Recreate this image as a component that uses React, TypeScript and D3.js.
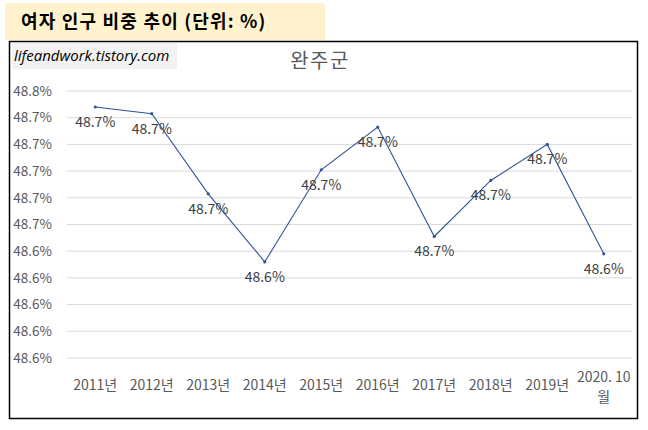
import React from "react";
import * as d3 from "d3";

const categories = [
  "2011년",
  "2012년",
  "2013년",
  "2014년",
  "2015년",
  "2016년",
  "2017년",
  "2018년",
  "2019년",
  "2020. 10월",
];

// share of women in total population (%)
const femaleShare = [
  48.748, 48.743, 48.683, 48.632, 48.701, 48.733, 48.651, 48.693, 48.72, 48.638,
];

const yTicks = [
  48.56, 48.58, 48.6, 48.62, 48.64, 48.66, 48.68, 48.7, 48.72, 48.74, 48.76,
];

const FONT = "'Noto Sans CJK KR', 'Noto Sans', sans-serif";

export default function App() {
  const width = 648;
  const height = 430;
  const plot = { left: 67, right: 632, top: 91, bottom: 358 };

  const x = d3
    .scaleBand()
    .domain(categories)
    .range([plot.left, plot.right]);
  const cx = (c: string) => x(c)! + x.bandwidth() / 2;

  const y = d3.scaleLinear().domain([48.56, 48.76]).range([plot.bottom, plot.top]);

  const line = d3
    .line<number>()
    .x((_, i) => cx(categories[i]))
    .y((d) => y(d));

  const fmt = (v: number) => `${v.toFixed(1)}%`;

  return (
    <svg
      width={width}
      height={height}
      style={{ position: "absolute", left: 0, top: 0, background: "#fff" }}
    >
      {/* header box */}
      <rect x={5} y={3} width={320} height={37} fill="#FFF2CC" />
      <text
        x={21}
        y={28}
        fontFamily={FONT}
        fontWeight={700}
        fontSize={18}
        letterSpacing={1.2}
        fill="#000"
      >
        여자 인구 비중 추이 (단위: %)
      </text>

      {/* chart frame */}
      <rect
        x={9.5}
        y={41.5}
        width={628}
        height={377}
        fill="#fff"
        stroke="#000"
        strokeWidth={1.5}
      />
      <rect x={12} y={43} width={165} height={26} fill="#F2F2F2" />
      <text
        x={14}
        y={61}
        fontFamily="'Open Sans', Lato, sans-serif"
        fontStyle="italic"
        fontSize={15}
        fill="#000"
      >
        lifeandwork.tistory.com
      </text>

      <text
        x={320}
        y={68}
        textAnchor="middle"
        fontFamily={FONT}
        fontSize={20}
        letterSpacing={1.5}
        fill="#595959"
      >
        완주군
      </text>

      {/* grid + y labels */}
      {yTicks.map((t) => (
        <g key={t}>
          <line
            x1={plot.left}
            x2={plot.right}
            y1={y(t)}
            y2={y(t)}
            stroke="#D9D9D9"
            strokeWidth={1}
          />
          <text
            x={52}
            y={y(t)}
            dy="0.35em"
            textAnchor="end"
            fontFamily={FONT}
            fontSize={13.5}
            fill="#595959"
          >
            {fmt(t)}
          </text>
        </g>
      ))}

      {/* x labels */}
      {categories.map((c) => {
        const parts = c === "2020. 10월" ? ["2020. 10", "월"] : [c];
        return (
          <text
            key={c}
            x={cx(c)}
            y={parts.length > 1 ? 382 : 390}
            textAnchor="middle"
            fontFamily={FONT}
            fontSize={14}
            fill="#595959"
          >
            {parts.map((p, i) => (
              <tspan key={i} x={cx(c)} dy={i === 0 ? 0 : 20}>
                {p}
              </tspan>
            ))}
          </text>
        );
      })}

      {/* series */}
      <path
        d={line(femaleShare)!}
        fill="none"
        stroke="#2F5597"
        strokeWidth={1.1}
      />
      {femaleShare.map((v, i) => (
        <circle
          key={i}
          cx={cx(categories[i])}
          cy={y(v)}
          r={1.6}
          fill="#2F5597"
        />
      ))}
      {femaleShare.map((v, i) => (
        <text
          key={`l${i}`}
          x={cx(categories[i])}
          y={y(v) + 15}
          dy="0.35em"
          textAnchor="middle"
          fontFamily={FONT}
          fontSize={14}
          fill="#404040"
        >
          {fmt(v)}
        </text>
      ))}
    </svg>
  );
}
